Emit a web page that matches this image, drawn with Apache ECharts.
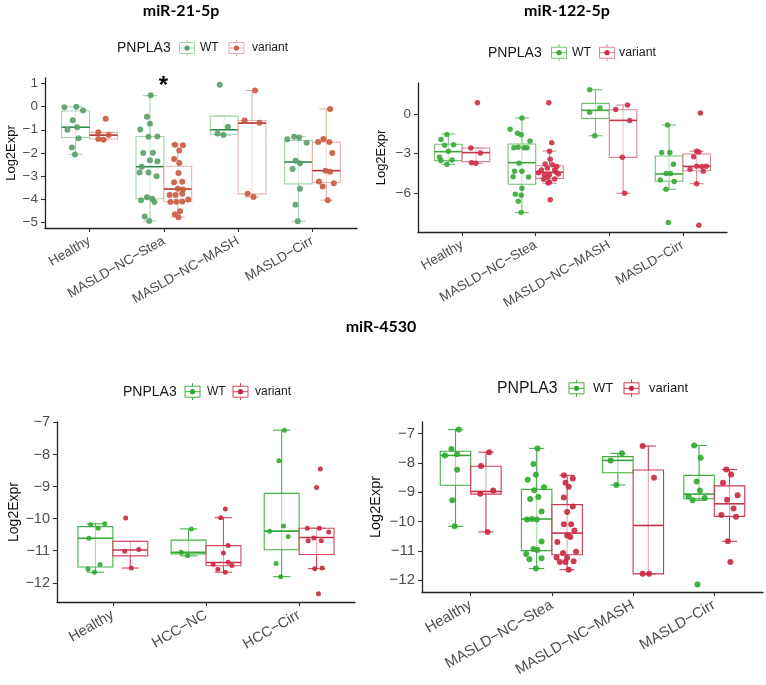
<!DOCTYPE html>
<html>
<head>
<meta charset="utf-8">
<script src="https://cdn.jsdelivr.net/npm/echarts@6.0.0/dist/echarts.min.js"></script>
<style>
  html, body { margin: 0; padding: 0; background: #fff; }
  #main { width: 766px; height: 685px; }
</style>
</head>
<body>
<div id="main"></div>
<script>
// categories and tick labels
const cats4 = ['Healthy', 'MASLD\u2212NC\u2212Stea', 'MASLD\u2212NC\u2212MASH', 'MASLD\u2212Cirr'];
const cats3 = ['Healthy', 'HCC\u2212NC', 'HCC\u2212Cirr'];
const yTicks21 = [-5, -4, -3, -2, -1, 0, 1];
const yTicks122 = [-6, -3, 0];
const yTicks4530 = [-12, -11, -10, -9, -8, -7];

// points per category: [jitter, Log2Expr]
const p1WtPts = [
  [[-0.15,-0.03],[0.01,-0.01],[0.10,-0.17],[-0.04,-0.59],[-0.11,-1.00],[0.02,-0.89],[0.04,-1.36],[-0.05,-1.76],[-0.01,-2.06]],
  [[0.01,0.49],[-0.04,-0.44],[0.00,-0.74],[-0.13,-0.99],[0.10,-1.29],[-0.02,-1.30],[0.04,-1.99],[-0.09,-2.00],[0.00,-2.31],[0.10,-2.36],[-0.11,-2.59],[-0.14,-2.84],[-0.02,-2.84],[0.09,-3.00],[-0.12,-4.03],[-0.04,-3.91],[0.03,-3.97],[0.06,-4.11],[-0.07,-4.73],[-0.01,-4.93]],
  [[-0.06,0.94],[0.05,-0.87],[-0.09,-1.16],[-0.01,-1.23]],
  [[-0.15,-1.41],[-0.06,-1.30],[0.01,-1.33],[0.11,-1.56],[-0.04,-2.33],[0.02,-2.44],[-0.08,-2.69],[0.02,-3.54],[-0.04,-4.23],[-0.01,-4.94]]
];
const p1VarPts = [
  [[0.03,-0.53],[-0.07,-1.11],[0.07,-1.23],[-0.07,-1.40],[0.00,-1.43]],
  [[-0.04,-1.64],[0.07,-1.67],[0.02,-1.89],[-0.05,-2.26],[0.02,-2.43],[0.01,-2.86],[-0.05,-3.26],[0.06,-3.24],[0.00,-3.54],[0.07,-3.57],[-0.11,-3.81],[-0.03,-3.81],[0.06,-3.76],[0.14,-4.00],[-0.10,-4.11],[-0.02,-4.10],[0.06,-4.09],[0.03,-4.51],[-0.04,-4.64],[0.01,-4.77]],
  [[0.04,0.69],[-0.10,-0.60],[0.10,-0.70],[-0.06,-3.76],[0.02,-3.90]],
  [[0.05,-0.10],[-0.11,-1.53],[-0.04,-1.40],[0.04,-1.53],[0.08,-2.00],[-0.01,-2.76],[0.05,-2.81],[-0.10,-3.23],[0.10,-3.30],[-0.05,-3.44],[0.02,-4.03]]
];
// box stats per category: [low, q1, median, q3, high]
const p1WtBox = [[-2.06,-1.33,-0.89,-0.19,-0.01],[-4.93,-3.97,-2.59,-1.29,0.47],[-1.23,-1.19,-1.00,-0.41,-0.41],[-4.94,-3.33,-2.39,-1.46,-1.30]];
const p1VarBox = [[-1.43,-1.40,-1.23,-1.11,-1.11],[-4.76,-4.10,-3.55,-2.57,-1.62],[-3.90,-3.76,-0.71,-0.60,0.69],[-4.03,-3.27,-2.76,-1.53,-0.10]];

const p2WtPts = [
  [[-0.02,-1.54],[-0.10,-1.92],[0.07,-2.32],[-0.05,-2.37],[0.00,-2.82],[-0.12,-3.28],[-0.10,-3.53],[0.05,-3.48],[-0.02,-3.81]],
  [[0.00,-0.30],[-0.16,-1.16],[-0.06,-1.46],[-0.01,-1.56],[0.11,-2.04],[-0.11,-2.55],[-0.05,-2.52],[0.03,-2.55],[0.07,-2.55],[-0.04,-3.73],[-0.10,-4.34],[0.00,-4.34],[-0.12,-4.74],[0.09,-4.76],[0.00,-5.62],[-0.09,-6.08],[-0.01,-6.15],[-0.05,-6.60],[-0.01,-7.46]],
  [[-0.08,1.84],[0.06,0.45],[-0.08,0.13],[-0.01,-1.64]],
  [[-0.02,-0.83],[-0.10,-2.92],[0.01,-2.92],[0.06,-3.81],[-0.04,-4.51],[0.02,-4.51],[-0.12,-4.99],[0.07,-5.11],[-0.04,-5.70],[-0.01,-8.22]]
];
const p2VarPts = [
  [[0.02,0.86],[-0.07,-2.57],[0.06,-2.95],[-0.06,-3.68],[0.00,-3.73]],
  [[-0.01,0.86],[0.03,-2.17],[0.00,-2.82],[0.01,-3.43],[-0.06,-3.78],[0.04,-3.83],[0.10,-3.98],[-0.11,-4.23],[-0.03,-4.08],[0.07,-4.23],[-0.07,-4.59],[0.00,-4.59],[0.09,-4.41],[0.12,-4.54],[-0.15,-4.44],[-0.08,-4.94],[-0.03,-4.79],[0.07,-4.92],[0.00,-5.17],[-0.02,-5.22],[0.01,-6.48]],
  [[0.06,0.68],[-0.10,0.35],[0.09,-0.48],[-0.01,-3.28],[0.02,-6.00]],
  [[0.05,0.08],[0.00,-2.82],[0.03,-2.87],[-0.04,-3.23],[-0.09,-4.18],[0.00,-3.96],[0.07,-3.98],[0.13,-3.96],[0.09,-4.34],[0.00,-5.27],[0.03,-8.42]]
];
const p2WtBox = [[-3.81,-3.53,-2.85,-2.29,-1.51],[-7.46,-5.32,-3.68,-2.27,-0.30],[-1.64,-0.33,0.28,0.81,1.84],[-5.70,-5.09,-4.54,-3.18,-0.83]];
const p2VarBox = [[-3.73,-3.60,-2.92,-2.57,-2.57],[-5.24,-4.87,-4.41,-3.91,-2.80],[-6.00,-3.28,-0.48,0.33,0.68],[-5.27,-4.29,-3.96,-3.02,-2.82]];

const p3WtPts = [
  [[-0.05,-10.19],[0.03,-10.30],[0.10,-10.16],[-0.07,-10.61],[0.05,-11.43],[-0.08,-11.57],[-0.01,-11.67]],
  [[0.03,-10.32],[-0.08,-11.05],[-0.01,-11.16]],
  [[0.03,-7.24],[-0.03,-8.19],[0.02,-10.23],[-0.13,-10.39],[0.07,-10.56],[-0.06,-11.40],[-0.01,-11.81]]
];
const p3VarPts = [
  [[-0.05,-9.98],[-0.06,-11.02],[0.09,-10.96],[0.01,-11.54]],
  [[0.02,-9.70],[-0.03,-9.97],[0.05,-10.84],[0.00,-11.07],[-0.11,-11.42],[0.05,-11.36],[0.09,-11.46],[-0.06,-11.58],[0.02,-11.67]],
  [[0.04,-8.45],[0.00,-9.03],[-0.10,-10.30],[0.03,-10.30],[0.13,-10.42],[-0.09,-10.69],[-0.03,-10.60],[0.05,-10.69],[-0.02,-11.56],[0.06,-11.54],[0.02,-12.34]]
];
const p3WtBox = [[-11.67,-11.51,-10.61,-10.25,-10.16],[-11.16,-11.10,-11.05,-10.67,-10.32],[-11.81,-10.97,-10.39,-9.21,-7.24]];
const p3VarBox = [[-11.54,-11.16,-10.98,-10.71,-10.71],[-11.67,-11.47,-11.37,-10.84,-9.97],[-11.56,-11.12,-10.59,-10.30,-10.30]];

const p4WtPts = [
  [[0.04,-6.86],[-0.05,-7.52],[-0.13,-7.74],[0.02,-7.70],[0.02,-8.23],[-0.04,-9.27],[-0.01,-10.16]],
  [[0.01,-7.50],[-0.04,-8.03],[-0.01,-8.40],[-0.11,-8.57],[-0.03,-8.93],[0.09,-8.83],[-0.08,-9.23],[0.02,-9.16],[0.06,-9.65],[-0.12,-9.93],[-0.06,-9.91],[0.00,-9.93],[0.06,-10.68],[-0.04,-10.93],[0.01,-10.97],[-0.13,-11.10],[0.06,-11.25],[-0.09,-11.28],[-0.01,-11.60]],
  [[0.05,-7.67],[-0.09,-7.91],[-0.02,-8.75]],
  [[-0.06,-7.40],[0.02,-7.82],[-0.03,-8.63],[0.01,-8.94],[-0.13,-9.14],[-0.08,-9.27],[0.07,-9.19],[-0.02,-12.14]]
];
const p4VarPts = [
  [[0.04,-7.63],[-0.06,-8.10],[-0.07,-9.05],[0.09,-8.94],[0.02,-10.35]],
  [[-0.04,-8.42],[0.07,-8.53],[-0.02,-8.67],[0.02,-8.81],[-0.04,-9.18],[0.07,-9.48],[0.00,-9.67],[-0.04,-10.09],[0.05,-10.09],[0.09,-10.30],[0.00,-10.47],[0.04,-10.52],[-0.12,-10.69],[-0.13,-11.22],[-0.05,-11.07],[0.00,-11.23],[0.11,-11.03],[-0.09,-11.38],[-0.02,-11.38],[0.08,-11.35],[0.02,-11.64]],
  [[-0.07,-7.42],[0.07,-8.50],[-0.07,-11.78],[0.01,-11.78]],
  [[-0.04,-8.22],[0.02,-8.39],[-0.08,-8.67],[0.10,-9.10],[-0.03,-9.25],[0.05,-9.55],[-0.10,-9.77],[0.08,-9.83],[-0.02,-10.67],[0.01,-11.38]]
];
const p4WtBox = [[-10.16,-8.76,-7.74,-7.60,-6.86],[-11.60,-10.99,-9.91,-8.90,-7.50],[-8.75,-8.33,-7.91,-7.78,-7.67],[-9.27,-9.22,-9.06,-8.42,-7.40]];
const p4VarBox = [[-10.35,-9.06,-8.97,-8.11,-7.63],[-11.64,-11.13,-10.39,-9.42,-8.42],[-11.78,-11.78,-10.13,-8.24,-7.42],[-10.67,-9.82,-9.39,-8.78,-8.22]];

const FONT = '"Liberation Sans", Arial, sans-serif';
const BOX_W = 0.375;
const DODGE = 0.1875;

// layout + look of the four panels
const panels = [
  { grid: { left: 45, top: 78, width: 312, height: 150 }, cats: cats4, yMin: -5.23, yMax: 1.23, yTicks: yTicks21,
    fs: 13.5, nameFs: 13, nameGap: 27, size: 6,
    wt: { pts: p1WtPts, box: p1WtBox, pt: '#5a9f68', line: '#a3d3ae', med: '#2e8b4a' },
    vr: { pts: p1VarPts, box: p1VarBox, pt: '#c95a3f', line: '#e6b0aa', med: '#b3332a' } },
  { grid: { left: 418, top: 83, width: 309, height: 149 }, cats: cats4, yMin: -8.93, yMax: 2.35, yTicks: yTicks122,
    fs: 13.5, nameFs: 13, nameGap: 30, size: 5.5,
    wt: { pts: p2WtPts, box: p2WtBox, pt: '#3aa93a', line: '#72c372', med: '#3aa93a' },
    vr: { pts: p2VarPts, box: p2VarBox, pt: '#cc2f47', line: '#dc8594', med: '#c8374d' } },
  { grid: { left: 57, top: 422, width: 298, height: 180 }, cats: cats3, yMin: -12.6, yMax: -6.985, yTicks: yTicks4530,
    fs: 14.5, nameFs: 14, nameGap: 35, size: 5,
    wt: { pts: p3WtPts, box: p3WtBox, pt: '#2fa82f', line: '#45b045', med: '#35a835' },
    vr: { pts: p3VarPts, box: p3VarBox, pt: '#c8283f', line: '#cf4a5e', med: '#c8334a' } },
  { grid: { left: 422, top: 422, width: 341, height: 170 }, cats: cats4, yMin: -12.4, yMax: -6.6, yTicks: yTicks4530,
    fs: 15, nameFs: 14.5, nameGap: 39, size: 6,
    wt: { pts: p4WtPts, box: p4WtBox, pt: '#2fa82f', line: '#3fae3f', med: '#35a835' },
    vr: { pts: p4VarPts, box: p4VarBox, pt: '#c8283f', line: '#cc3a50', med: '#c8334a' } }
];

function minusFmt(v) {
  return v < 0 ? '\u2212' + Math.abs(v) : String(v);
}

function boxRender(offset, lineColor, medColor) {
  return function (params, api) {
    const c = api.value(0) + offset;
    const lo = api.coord([c, api.value(1)]);
    const q1 = api.coord([c - BOX_W / 2, api.value(2)]);
    const mdL = api.coord([c - BOX_W / 2, api.value(3)]);
    const mdR = api.coord([c + BOX_W / 2, api.value(3)]);
    const q3 = api.coord([c + BOX_W / 2, api.value(4)]);
    const hi = api.coord([c, api.value(5)]);
    const capL = api.coord([c - BOX_W / 4, api.value(1)])[0];
    const capR = api.coord([c + BOX_W / 4, api.value(1)])[0];
    const st = { stroke: lineColor, lineWidth: 1.1, fill: null };
    return {
      type: 'group',
      children: [
        { type: 'line', shape: { x1: lo[0], y1: lo[1], x2: hi[0], y2: hi[1] }, style: st },
        { type: 'line', shape: { x1: capL, y1: lo[1], x2: capR, y2: lo[1] }, style: st },
        { type: 'line', shape: { x1: capL, y1: hi[1], x2: capR, y2: hi[1] }, style: st },
        { type: 'rect', shape: { x: q1[0], y: q3[1], width: q3[0] - q1[0], height: q1[1] - q3[1] },
          style: { fill: 'rgba(255,255,255,0.55)', stroke: lineColor, lineWidth: 1.1 } },
        { type: 'line', shape: { x1: mdL[0], y1: mdL[1], x2: mdR[0], y2: mdR[1] },
          style: { stroke: medColor, lineWidth: 1.6 } }
      ]
    };
  };
}

const grids = [], xAxes = [], yAxes = [], series = [];
panels.forEach(function (p, k) {
  const n = p.cats.length;
  const idx = p.cats.map(function (c, i) { return i; });
  grids.push(Object.assign({ containLabel: false, outerBoundsMode: 'none' }, p.grid));
  xAxes.push({
    type: 'value', gridIndex: k, min: -0.6, max: n - 0.4,
    splitLine: { show: false },
    axisLine: { onZero: false, lineStyle: { color: '#222', width: 1.3 } },
    axisTick: { length: 4, customValues: idx, lineStyle: { color: '#333', width: 1.1 } },
    axisLabel: {
      customValues: idx, rotate: 30, margin: 12, fontSize: p.fs, fontFamily: FONT, color: '#4d4d4d',
      formatter: function (v) { return p.cats[Math.round(v)]; }
    }
  });
  yAxes.push({
    type: 'value', gridIndex: k, min: p.yMin, max: p.yMax,
    name: 'Log2Expr', nameLocation: 'middle', nameRotate: 90, nameGap: p.nameGap,
    nameTextStyle: { fontSize: p.nameFs, fontFamily: FONT, color: '#111' },
    splitLine: { show: false },
    axisLine: { show: true, onZero: false, lineStyle: { color: '#222', width: 1.3 } },
    axisTick: { show: true, length: 4, customValues: p.yTicks, lineStyle: { color: '#333', width: 1.1 } },
    axisLabel: { customValues: p.yTicks, margin: 7, fontSize: p.fs, fontFamily: FONT, color: '#4d4d4d', formatter: minusFmt }
  });
  [[p.wt, -DODGE], [p.vr, DODGE]].forEach(function (g) {
    const grp = g[0], off = g[1];
    series.push({
      type: 'custom', xAxisIndex: k, yAxisIndex: k, silent: true,
      renderItem: boxRender(off, grp.line, grp.med),
      encode: { x: 0, y: [1, 2, 3, 4, 5] },
      data: grp.box.map(function (b, i) { return [i].concat(b); })
    });
  });
  [[p.wt, -DODGE], [p.vr, DODGE]].forEach(function (g) {
    const grp = g[0], off = g[1];
    const data = [];
    grp.pts.forEach(function (list, i) {
      list.forEach(function (d) { data.push([i + off + d[0], d[1]]); });
    });
    series.push({
      type: 'scatter', xAxisIndex: k, yAxisIndex: k, silent: true,
      symbolSize: p.size, itemStyle: { color: grp.pt, opacity: 0.9 }, data: data
    });
  });
});

// legend keys drawn as graphics (ggplot boxplot key)
function key(cx, cy, lineColor, dotColor) {
  return [
    { type: 'line', shape: { x1: cx, y1: cy - 8.5, x2: cx, y2: cy + 8.5 }, style: { stroke: lineColor, lineWidth: 1 } },
    { type: 'rect', shape: { x: cx - 7.5, y: cy - 5.5, width: 15, height: 11 }, style: { fill: '#fff', stroke: lineColor, lineWidth: 1 } },
    { type: 'line', shape: { x1: cx - 7.5, y1: cy, x2: cx + 7.5, y2: cy }, style: { stroke: lineColor, lineWidth: 1 } },
    { type: 'circle', shape: { cx: cx, cy: cy, r: 2.6 }, style: { fill: dotColor } }
  ];
}
function txt(x, y, s, size, weight, align) {
  return { type: 'text', x: x, y: y,
    style: { text: s, font: (weight || 'normal') + ' ' + size + 'px ' + FONT, fill: '#1a1a1a',
      textAlign: align || 'left', textVerticalAlign: 'middle', align: align || 'left', verticalAlign: 'middle' } };
}
const legends = [
  { y: 48, t: 117, k1: 187, w: 200, k2: 236.5, v: 252, f1: 14, f2: 12, p: panels[0] },
  { y: 52.7, t: 488, k1: 559, w: 572, k2: 607, v: 619, f1: 14, f2: 12.3, p: panels[1] },
  { y: 391.7, t: 123, k1: 192.5, w: 207, k2: 240.5, v: 255, f1: 14, f2: 12, p: panels[2] },
  { y: 388.3, t: 497, k1: 576.5, w: 593, k2: 631.5, v: 649, f1: 15.8, f2: 13, p: panels[3] }
];
const graphic = [];
legends.forEach(function (L) {
  graphic.push(txt(L.t, L.y, 'PNPLA3', L.f1));
  key(L.k1, L.y, L.p.wt.line, L.p.wt.pt).forEach(function (e) { graphic.push(e); });
  graphic.push(txt(L.w, L.y, 'WT', L.f2));
  key(L.k2, L.y, L.p.vr.line, L.p.vr.pt).forEach(function (e) { graphic.push(e); });
  graphic.push(txt(L.v, L.y, 'variant', L.f2));
});
const TITLE_FONT = 'Lato, "Open Sans", sans-serif';
[['miR-21-5p', 181, 11], ['miR-122-5p', 567, 11], ['miR-4530', 381, 327]].forEach(function (t) {
  graphic.push({ type: 'text', x: t[1], y: t[2],
    style: { text: t[0], font: 'bold 16px ' + TITLE_FONT, fill: '#000',
      textAlign: 'center', textVerticalAlign: 'middle', align: 'center', verticalAlign: 'middle' } });
});
graphic.push({ type: 'text', x: 163.5, y: 74,
  style: { text: '*', font: 'bold 24px ' + FONT, fill: '#000', textAlign: 'center', textVerticalAlign: 'top', align: 'center', verticalAlign: 'top' } });

const chart = echarts.init(document.getElementById('main'));
chart.setOption({
  animation: false,
  backgroundColor: '#fff',
  grid: grids,
  xAxis: xAxes,
  yAxis: yAxes,
  series: series,
  graphic: graphic
});
</script>
</body>
</html>
